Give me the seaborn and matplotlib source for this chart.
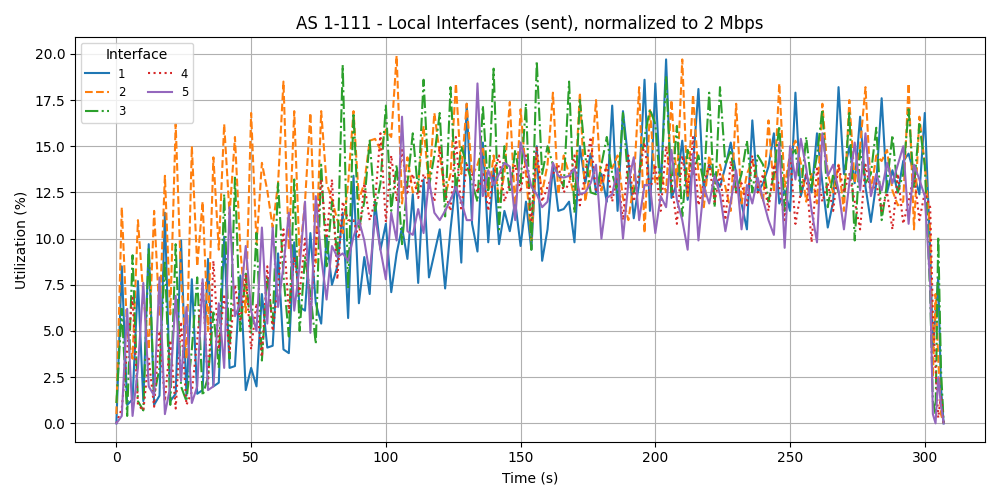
import matplotlib
matplotlib.use("Agg")
import matplotlib.pyplot as plt
import seaborn as sns
import pandas as pd

# time stamps (s)
times = list(range(0, 301, 2)) + [302, 303, 304, 305, 306, 307]

interfaces = ["1", "2", "3", "4", "5"]

s1 = [0.0, 8.5, 1.0, 1.3, 7.7, 1.2, 9.7, 1.0, 1.5, 11.4,
      1.2, 1.6, 9.9, 1.5, 7.8, 1.6, 1.8, 8.9, 2.0, 2.2,
      10.1, 3.0, 3.1, 8.0, 1.8, 3.0, 2.0, 7.0, 4.1, 4.2,
      9.2, 4.0, 3.8, 9.8, 6.3, 6.1, 10.3, 6.5, 5.4, 10.1,
      7.5, 8.5, 11.4, 5.7, 13.4, 6.5, 9.0, 7.0, 12.0, 9.4,
      10.8, 7.1, 9.2, 10.6, 8.9, 12.4, 7.6, 13.2, 7.9, 9.2,
      10.5, 7.3, 10.5, 13.2, 8.7, 17.3, 10.8, 9.3, 15.2, 9.8,
      13.8, 9.7, 11.5, 10.4, 12.0, 9.6, 12.0, 9.4, 15.0, 8.8,
      10.5, 13.9, 11.5, 11.6, 12.0, 9.8, 15.0, 13.0, 14.6, 12.5,
      13.5, 12.0, 17.2, 11.5, 16.9, 14.2, 11.1, 13.0, 18.6, 11.5,
      18.4, 12.5, 19.7, 12.2, 13.0, 15.3, 12.1, 14.0, 18.1, 12.5,
      14.0, 13.4, 12.8, 13.9, 15.2, 13.5, 11.9, 10.5, 16.4, 12.5,
      13.0, 13.9, 15.7, 11.9, 12.6, 11.5, 17.9, 12.3, 13.5, 12.5,
      15.7, 13.0, 10.6, 12.0, 18.2, 13.5, 15.0, 13.0, 16.6, 12.8,
      10.9, 13.0, 17.6, 12.5, 13.7, 12.5, 14.2, 14.6, 13.5, 12.4,
      16.8,
      9.4, 4.0, 6.0, 7.9, 2.0, 0.0]

s2 = [0.5, 11.7, 4.9, 3.5, 11.0, 6.9, 4.0, 11.5, 5.8, 13.4,
      5.9, 16.2, 7.8, 3.5, 15.0, 8.5, 12.0, 5.0, 14.4, 9.4,
      16.2, 11.3, 15.5, 9.4, 6.0, 16.8, 9.7, 14.1, 12.6, 10.6,
      13.0, 18.5, 9.4, 16.9, 9.0, 12.0, 16.8, 8.7, 16.9, 13.0,
      12.1, 11.0, 10.3, 13.0, 16.9, 12.1, 13.0, 15.3, 15.4, 14.8,
      15.9, 15.5, 19.9, 11.9, 14.4, 12.5, 13.0, 16.1, 12.8, 16.8,
      14.6, 12.3, 13.5, 18.4, 13.5, 17.3, 13.4, 14.0, 15.0, 12.3,
      14.5, 12.0, 13.5, 17.4, 11.5, 17.0, 13.5, 9.9, 14.5, 12.5,
      14.0, 17.9, 12.4, 14.5, 13.5, 12.2, 17.9, 12.0, 13.8, 17.5,
      12.6, 14.0, 13.8, 14.5, 12.2, 11.0, 13.0, 18.2, 10.3, 17.0,
      13.0, 13.5, 12.5, 17.5, 12.8, 19.7, 12.3, 17.8, 13.5, 11.7,
      14.5, 13.0, 14.0, 12.8, 11.5, 17.3, 11.9, 13.5, 14.2, 13.0,
      12.0, 16.4, 12.5, 18.4, 12.8, 14.6, 15.3, 14.1, 12.0, 13.5,
      11.9, 17.3, 13.5, 12.5, 14.0, 11.5, 17.5, 13.0, 15.0, 18.2,
      12.5, 14.5, 14.2, 14.8, 12.6, 11.8, 12.0, 18.4, 10.5, 16.6,
      14.0,
      10.5, 2.5, 7.0, 3.5, 0.5, 0.0]

s3 = [1.1, 6.2, 0.4, 9.1, 1.2, 0.7, 9.5, 1.5, 3.0, 8.8,
      1.0, 9.7, 2.0, 1.2, 4.0, 7.9, 1.5, 2.5, 6.0, 3.0,
      12.4, 3.5, 13.3, 5.0, 8.1, 4.9, 10.3, 3.4, 8.0, 5.4,
      13.0, 8.0, 4.7, 13.2, 5.0, 9.0, 7.0, 4.3, 14.0, 8.5,
      12.0, 9.0, 19.4, 7.3, 16.8, 10.5, 12.0, 15.3, 11.5, 13.0,
      17.2, 11.5, 14.0, 9.7, 13.0, 15.7, 12.5, 18.6, 12.8, 14.5,
      16.8, 11.2, 18.2, 12.5, 15.0, 14.0, 13.0, 12.0, 17.2, 12.5,
      19.2, 10.5, 15.0, 12.5, 14.8, 13.0, 17.3, 9.4, 19.6, 13.5,
      15.0, 14.0, 13.5, 12.8, 18.5, 11.4, 17.5, 14.5, 12.5, 12.4,
      14.0, 15.5, 13.5, 12.5, 16.8, 13.0, 12.5, 13.5, 15.5, 17.0,
      16.2, 12.5, 18.8, 12.5, 16.1, 11.2, 14.8, 13.5, 14.5, 13.0,
      17.9, 11.7, 18.2, 14.0, 14.8, 12.5, 13.5, 15.3, 12.5, 14.5,
      14.0, 12.0, 13.5, 16.1, 11.5, 14.5, 14.8, 12.5, 15.5, 12.8,
      14.5, 17.0, 11.7, 13.5, 12.5, 12.3, 16.8, 9.9, 14.8, 13.0,
      13.5, 16.0, 11.0, 13.0, 15.6, 12.5, 13.5, 17.0, 12.8, 16.2,
      14.0,
      7.0, 1.2, 0.5, 10.1, 3.0, 0.0]

s4 = [0.0, 0.8, 4.0, 6.8, 1.0, 0.7, 3.5, 0.9, 5.0, 1.2,
      4.5, 0.8, 5.5, 1.0, 1.7, 4.5, 7.7, 2.0, 8.8, 4.0,
      7.0, 3.8, 7.5, 5.5, 8.0, 4.0, 6.5, 3.6, 8.5, 5.0,
      7.5, 10.5, 6.0, 9.0, 7.0, 10.0, 6.0, 9.5, 13.2, 10.0,
      13.2, 7.8, 12.0, 11.0, 11.0, 10.0, 13.0, 11.0, 12.0, 15.7,
      10.9, 14.5, 12.0, 14.8, 12.5, 13.5, 12.2, 13.5, 12.8, 12.0,
      15.0, 12.5, 11.5, 15.5, 11.5, 14.0, 13.5, 12.5, 13.5, 11.5,
      13.5, 14.5, 12.0, 13.0, 14.0, 12.5, 14.5, 11.0, 15.0, 12.0,
      12.8, 13.5, 14.0, 12.5, 13.0, 14.5, 11.8, 13.5, 15.5, 12.5,
      13.0, 14.0, 12.0, 13.5, 11.0, 14.5, 12.0, 13.5, 15.2, 12.5,
      14.0, 11.5, 15.0, 13.0, 10.8, 14.5, 12.5, 15.5, 11.8, 13.0,
      14.0, 12.0, 13.5, 11.0, 14.2, 12.5, 13.0, 11.8, 14.5, 12.5,
      13.5, 11.5, 14.0, 12.8, 11.0, 14.5, 10.8, 12.5, 13.5, 9.8,
      13.8, 12.0, 13.0, 11.5, 14.0, 12.5, 13.5, 12.0, 10.5, 14.0,
      12.5, 13.0, 11.5, 12.5, 10.5, 13.5, 10.8, 12.0, 13.5, 11.0,
      12.5,
      11.7, 6.0, 3.0, 0.3, 1.5, 0.0]

s5 = [0.0, 0.4, 6.2, 0.4, 3.0, 7.6, 2.0, 1.5, 7.9, 0.5,
      2.0, 6.9, 2.3, 6.3, 1.1, 2.0, 7.8, 1.8, 2.0, 6.5,
      3.0, 11.7, 5.8, 6.5, 9.6, 6.1, 5.0, 10.6, 5.4, 10.6,
      6.3, 8.5, 11.4, 6.1, 8.5, 12.0, 4.9, 12.3, 9.0, 6.7,
      9.6, 9.0, 9.2, 8.8, 10.1, 11.0, 9.9, 8.1, 11.2, 9.4,
      7.8, 11.4, 9.9, 16.6, 10.4, 10.2, 11.6, 10.3, 13.2, 11.4,
      11.0, 11.5, 12.1, 12.8, 12.0, 11.0, 11.0, 18.4, 12.3, 13.7,
      12.9, 13.5, 14.1, 13.9, 11.0, 15.2, 14.1, 12.8, 12.4, 11.7,
      12.0, 14.1, 13.4, 13.3, 13.4, 13.8, 12.4, 12.5, 13.0, 14.0,
      10.0, 12.2, 12.4, 13.8, 10.0, 13.0, 14.4, 11.0, 12.9, 12.9,
      10.3, 12.3, 11.7, 14.8, 12.1, 11.0, 9.4, 14.6, 9.9, 12.8,
      11.9, 13.4, 12.4, 10.4, 12.0, 13.7, 10.5, 12.9, 11.9, 13.3,
      12.1, 11.0, 10.2, 15.2, 9.5, 15.0, 13.2, 15.4, 13.8, 11.5,
      9.8, 15.7, 13.4, 14.0, 12.6, 10.5, 13.0, 15.2, 12.6, 15.7,
      12.3, 13.5, 12.6, 14.1, 13.0, 14.0, 15.0, 10.8, 14.0, 13.2,
      12.3,
      7.6, 0.5, 0.0, 2.5, 1.0, 0.0]

series = [s1, s2, s3, s4, s5]
for s in series:
    assert len(s) == len(times), len(s)

rows = []
for name, vals in zip(interfaces, series):
    for t, v in zip(times, vals):
        rows.append({"Time (s)": t, "Utilization (%)": v, "Interface": name})
df = pd.DataFrame(rows)

palette = {"1": "#1f77b4", "2": "#ff7f0e", "3": "#2ca02c", "4": "#d62728", "5": "#9467bd"}
dashes = {"1": "", "2": (3.7, 1.6), "3": (6.4, 1.6, 1.0, 1.6), "4": (1.0, 1.65), "5": ""}

fig, ax = plt.subplots(figsize=(10, 5), dpi=100)
sns.lineplot(data=df, x="Time (s)", y="Utilization (%)", hue="Interface",
             style="Interface", palette=palette, dashes=dashes,
             estimator=None, linewidth=1.5, ax=ax)
ax.grid(True, color="#b0b0b0", linewidth=0.8)
ax.set_axisbelow(True)
ax.set_title("AS 1-111 - Local Interfaces (sent), normalized to 2 Mbps")
handles, labels = ax.get_legend_handles_labels()
ax.legend(handles, labels, title="Interface", ncol=2, loc="upper left", fontsize="small")
fig.tight_layout()
fig.savefig("out.png")
